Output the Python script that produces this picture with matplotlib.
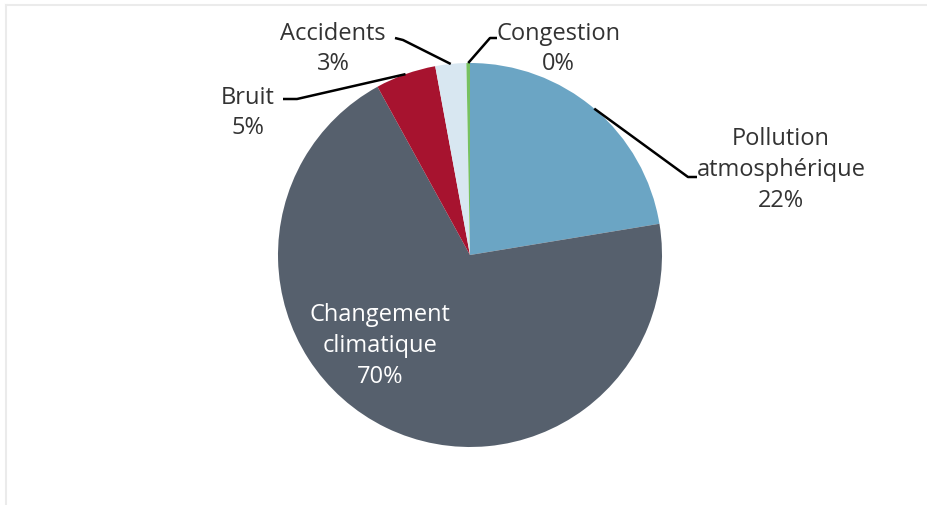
import numpy as np
import matplotlib.pyplot as plt

# ---- data ----
categories = ["Pollution\natmosphérique", "Changement\nclimatique", "Bruit", "Accidents", "Congestion"]
shares = [22.4, 69.6, 5.1, 2.6, 0.3]
colors = ["#6BA5C4", "#56606D", "#A7132F", "#D8E7F1", "#77C161"]

plt.rcParams['font.family'] = ['Open Sans', 'DejaVu Sans']

W, H, DPI = 927, 505, 100
cx, cy, R = 470, 255, 192   # pie centre / radius in pixels


def px(x, y):
    # pixel position -> data units (radius = 1)
    return (x - cx) / R, (cy - y) / R


fig = plt.figure(figsize=(W / DPI, H / DPI), dpi=DPI)
ax = fig.add_axes([0, 0, 1, 1])
wedges, _ = ax.pie(shares, colors=colors, startangle=90, counterclock=False,
                   radius=1, center=(0, 0), wedgeprops=dict(linewidth=0))
ax.set_xlim(-cx / R, (W - cx) / R)
ax.set_ylim(-(H - cy) / R, cy / R)
ax.set_aspect('equal')
ax.axis('off')

# faint frame (top and left only)
fig.add_artist(plt.Line2D([6 / W, 1], [1 - 4.5 / H, 1 - 4.5 / H], color="#EBEBEB", lw=1.5))
fig.add_artist(plt.Line2D([6 / W, 6 / W], [0, 1 - 4.5 / H], color="#EBEBEB", lw=1.5))

labels = [f"{c}\n{s:.0f}%" for c, s in zip(categories, shares)]
FS = 17
txt_kw = dict(fontsize=FS, color="#333333", ha="center", va="center", linespacing=1.38)

# label centre, elbow point, text-side end of the leader (pixels); None = inside
layout = [
    ((781, 170), (688, 177), (697, 177)),
    ((380, 346), None, None),
    ((248, 113), (297, 99), (283, 99)),
    ((333, 49), (403, 40), (395, 38)),
    ((558, 49), (490, 38), (497, 38)),
]

for w, lab, (tpos, elbow, tend) in zip(wedges, labels, layout):
    if elbow is None:
        ax.text(*px(*tpos), lab, **{**txt_kw, "color": "white"})
        continue
    ang = np.deg2rad((w.theta1 + w.theta2) / 2)
    ex, ey = np.cos(ang), np.sin(ang)
    bx, by = px(*elbow)
    tx, ty = px(*tend)
    ax.plot([ex, bx, tx], [ey, by, ty], color="black", lw=1.8, solid_capstyle="butt")
    ax.text(*px(*tpos), lab, **txt_kw)

fig.savefig("out.png", dpi=DPI)
